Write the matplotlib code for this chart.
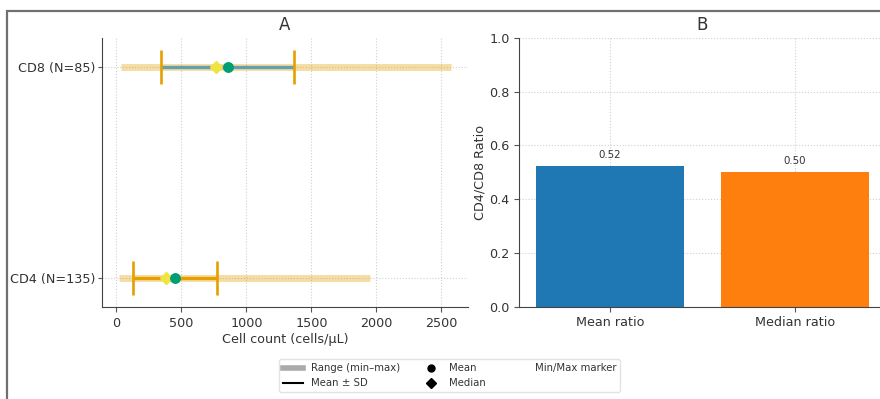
import matplotlib
matplotlib.use("Agg")
import matplotlib.pyplot as plt
from matplotlib.lines import Line2D
from matplotlib.patches import Rectangle

# ---- data ----
groups = ["CD4 (N=135)", "CD8 (N=85)"]
cell_min = [18, 33]
cell_max = [1954, 2577]
cell_mean = [451, 856]
cell_sd = [323, 510]
cell_median = [385, 769]
sd_colors = ["#E69F00", "#62A0AE"]

ratio_labels = ["Mean ratio", "Median ratio"]
ratio_values = [0.524, 0.502]
ratio_colors = ["#1f77b4", "#ff7f0e"]

TXT = "#333333"
plt.rcParams["font.family"] = ["DejaVu Sans"]
plt.rcParams["text.color"] = TXT
plt.rcParams["axes.labelcolor"] = TXT
plt.rcParams["xtick.color"] = "#555555"
plt.rcParams["ytick.color"] = "#555555"
plt.rcParams["xtick.labelcolor"] = TXT
plt.rcParams["ytick.labelcolor"] = TXT

fig = plt.figure(figsize=(8.8, 3.99), dpi=100)

# outer frame (cropped screenshot look)
fig.patches.append(Rectangle((7 / 880, -0.5), 2.0, 0.5 + (399 - 11) / 399,
                             transform=fig.transFigure, fill=False,
                             edgecolor="#707070", linewidth=1.6, zorder=0))

axA = fig.add_axes([102 / 880, (399 - 307) / 399, 366 / 880, 269 / 399])
axB = fig.add_axes([519.3 / 880, (399 - 306.7) / 399, 366 / 880, 268.7 / 399])

# ---- Panel A ----
ypos = list(range(len(groups)))
for i in ypos:
    axA.hlines(i, cell_min[i], cell_max[i], color="#E69F00", alpha=0.35,
               linewidth=5, zorder=2)
    lo = cell_mean[i] - cell_sd[i]
    hi = cell_mean[i] + cell_sd[i]
    axA.hlines(i, lo, hi, color=sd_colors[i], linewidth=2.4, zorder=3)
    axA.vlines([lo, hi], i - 0.08, i + 0.08, color="#E69F00", linewidth=1.9, zorder=4)
    axA.plot(cell_median[i], i, marker="D", color="#F0E442", markersize=5.8,
             linestyle="none", zorder=5)
    axA.plot(cell_mean[i], i, marker="o", color="#009E73", markersize=6.8,
             linestyle="none", zorder=6)

axA.set_yticks(ypos)
axA.set_yticklabels(groups, fontsize=9.2)
axA.tick_params(axis="y", length=3, pad=2)
axA.set_xticks([0, 500, 1000, 1500, 2000, 2500])
axA.tick_params(axis="x", labelsize=9.2)
axA.set_xlabel("Cell count (cells/\u03bcL)", fontsize=9.2, labelpad=2)
axA.set_title("A", fontsize=12, color=TXT)
axA.grid(True, linestyle=":", color="#d0d0d0", linewidth=0.8)
axA.set_axisbelow(True)
for s in ["top", "right"]:
    axA.spines[s].set_visible(False)
for s in ["left", "bottom"]:
    axA.spines[s].set_color("#444444")

# ---- Panel B ----
xb = list(range(len(ratio_labels)))
bars = axB.bar(xb, ratio_values, color=ratio_colors, width=0.8, zorder=2)
for b, v in zip(bars, ratio_values):
    axB.annotate(f"{v:.2f}", (b.get_x() + b.get_width() / 2, v),
                 xytext=(0, 4), textcoords="offset points",
                 ha="center", va="bottom", fontsize=7.4, color=TXT)
axB.set_xticks(xb)
axB.set_xticklabels(ratio_labels, fontsize=9.2)
axB.set_ylim(0, 1.0)
axB.set_yticks([0.0, 0.2, 0.4, 0.6, 0.8, 1.0])
axB.tick_params(axis="y", labelsize=9.2)
axB.set_ylabel("CD4/CD8 Ratio", fontsize=9.2, labelpad=2)
axB.set_title("B", fontsize=12, color=TXT)
axB.grid(True, linestyle=":", color="#d0d0d0", linewidth=0.8, zorder=3)
for s in ["top", "right"]:
    axB.spines[s].set_visible(False)
for s in ["left", "bottom"]:
    axB.spines[s].set_color("#444444")

# ---- legend ----
handles = [
    Line2D([], [], color="#aaaaaa", linewidth=4),
    Line2D([], [], color="black", linewidth=1.5),
    Line2D([], [], color="black", marker="o", linestyle="none", markersize=5),
    Line2D([], [], color="black", marker="D", linestyle="none", markersize=5),
    Line2D([], [], color="none", linestyle="none"),
]
labels = ["Range (min\u2013max)", "Mean \u00b1 SD", "Mean", "Median", "Min/Max marker"]
fig.legend(handles, labels, ncol=3, loc="upper center",
           bbox_to_anchor=(0.511, (399 - 359) / 399), borderaxespad=0,
           fontsize=7.3, frameon=True, edgecolor="#dddddd")

fig.savefig("out.png", dpi=100)
